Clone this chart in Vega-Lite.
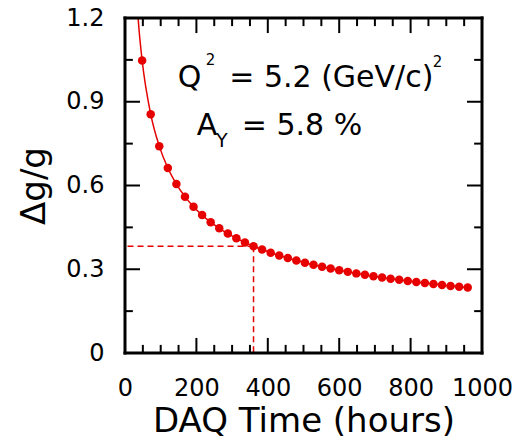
{
  "$schema": "https://vega.github.io/schema/vega-lite/v6.json",
  "width": 357,
  "height": 335,
  "autosize": {"type": "none"},
  "padding": {"left": 125, "top": 18, "right": 33, "bottom": 86},
  "background": "white",
  "config": {
    "view": {"stroke": null},
    "font": "DejaVu Sans",
    "axis": {
      "domain": false,
      "grid": false,
      "ticks": false,
      "labelColor": "black",
      "titleColor": "black",
      "labelFont": "DejaVu Sans",
      "titleFont": "DejaVu Sans",
      "labelFontSize": 24,
      "titleFontSize": 34,
      "titleFontWeight": "normal",
      "labelOverlap": false,
      "labelFlush": false,
      "labelBound": false
    }
  },
  "datasets": {
    "curve": [
      {"t": 32, "dg": 1.283, "m": 0},
      {"t": 40, "dg": 1.148, "m": 0},
      {"t": 48, "dg": 1.0479, "m": 1},
      {"t": 72, "dg": 0.8556, "m": 1},
      {"t": 96, "dg": 0.741, "m": 1},
      {"t": 120, "dg": 0.6627, "m": 1},
      {"t": 144, "dg": 0.605, "m": 1},
      {"t": 168, "dg": 0.5601, "m": 1},
      {"t": 192, "dg": 0.5239, "m": 1},
      {"t": 216, "dg": 0.494, "m": 1},
      {"t": 240, "dg": 0.4686, "m": 1},
      {"t": 264, "dg": 0.4468, "m": 1},
      {"t": 288, "dg": 0.4278, "m": 1},
      {"t": 312, "dg": 0.411, "m": 1},
      {"t": 336, "dg": 0.3961, "m": 1},
      {"t": 360, "dg": 0.3826, "m": 1},
      {"t": 384, "dg": 0.3705, "m": 1},
      {"t": 408, "dg": 0.3594, "m": 1},
      {"t": 432, "dg": 0.3493, "m": 1},
      {"t": 456, "dg": 0.34, "m": 1},
      {"t": 480, "dg": 0.3314, "m": 1},
      {"t": 504, "dg": 0.3234, "m": 1},
      {"t": 528, "dg": 0.3159, "m": 1},
      {"t": 552, "dg": 0.309, "m": 1},
      {"t": 576, "dg": 0.3025, "m": 1},
      {"t": 600, "dg": 0.2964, "m": 1},
      {"t": 624, "dg": 0.2906, "m": 1},
      {"t": 648, "dg": 0.2852, "m": 1},
      {"t": 672, "dg": 0.2801, "m": 1},
      {"t": 696, "dg": 0.2752, "m": 1},
      {"t": 720, "dg": 0.2706, "m": 1},
      {"t": 744, "dg": 0.2662, "m": 1},
      {"t": 768, "dg": 0.262, "m": 1},
      {"t": 792, "dg": 0.258, "m": 1},
      {"t": 816, "dg": 0.2542, "m": 1},
      {"t": 840, "dg": 0.2505, "m": 1},
      {"t": 864, "dg": 0.247, "m": 1},
      {"t": 888, "dg": 0.2436, "m": 1},
      {"t": 912, "dg": 0.2404, "m": 1},
      {"t": 936, "dg": 0.2373, "m": 1},
      {"t": 960, "dg": 0.2343, "m": 1}
    ],
    "marker": [{"t": 360, "dg": 0.3826}],
    "xmajor": [{"v": 200}, {"v": 400}, {"v": 600}, {"v": 800}],
    "xminor": [
      {"v": 50}, {"v": 100}, {"v": 150}, {"v": 250}, {"v": 300}, {"v": 350},
      {"v": 450}, {"v": 500}, {"v": 550}, {"v": 650}, {"v": 700}, {"v": 750},
      {"v": 850}, {"v": 900}, {"v": 950}
    ],
    "ymajor": [{"v": 0.3}, {"v": 0.6}, {"v": 0.9}],
    "yminor": [{"v": 0.15}, {"v": 0.45}, {"v": 0.75}, {"v": 1.05}],
    "frame": [
      {"x0": 0, "x1": 1000, "y0": 0, "y1": 0},
      {"x0": 0, "x1": 1000, "y0": 1.2, "y1": 1.2},
      {"x0": 0, "x1": 0, "y0": 0, "y1": 1.2},
      {"x0": 1000, "x1": 1000, "y0": 0, "y1": 1.2}
    ],
    "notes": [
      {"t": 148, "dg": 0.954, "label": "Q", "role": "main"},
      {"t": 292, "dg": 0.954, "label": "= 5.2 (GeV/c)", "role": "main"},
      {"t": 201, "dg": 0.782, "label": "A", "role": "main"},
      {"t": 327, "dg": 0.782, "label": "= 5.8 %", "role": "main"},
      {"t": 226, "dg": 1.033, "label": "2", "role": "sup"},
      {"t": 862, "dg": 1.026, "label": "2", "role": "sup"},
      {"t": 255, "dg": 0.739, "label": "Y", "role": "sub"}
    ]
  },
  "layer": [
    {
      "data": {"name": "curve"},
      "mark": {"type": "line", "color": "#e60000", "strokeWidth": 1.5, "interpolate": "monotone", "clip": true},
      "encoding": {
        "x": {
          "field": "t", "type": "quantitative",
          "scale": {"domain": [0, 1000], "nice": false},
          "axis": {
            "title": "DAQ Time (hours)",
            "values": [0, 200, 400, 600, 800, 1000],
            "format": "d",
            "labelPadding": 23,
            "titlePadding": 4
          }
        },
        "y": {
          "field": "dg", "type": "quantitative",
          "scale": {"domain": [0, 1.2], "nice": false},
          "axis": {
            "title": "Δg/g",
            "values": [0, 0.3, 0.6, 0.9, 1.2],
            "labelExpr": "format(datum.value, '~g')",
            "labelPadding": 21,
            "titlePadding": 14
          }
        }
      }
    },
    {
      "data": {"name": "curve"},
      "transform": [{"filter": "datum.m === 1"}],
      "mark": {"type": "circle", "color": "#e60000", "opacity": 1, "size": 72},
      "encoding": {
        "x": {"field": "t", "type": "quantitative"},
        "y": {"field": "dg", "type": "quantitative"}
      }
    },
    {
      "data": {"name": "marker"},
      "mark": {"type": "rule", "color": "#e60000", "strokeWidth": 1.5, "strokeDash": [6, 4]},
      "encoding": {
        "x": {"field": "t", "type": "quantitative"},
        "x2": {"datum": 0},
        "y": {"field": "dg", "type": "quantitative"}
      }
    },
    {
      "data": {"name": "marker"},
      "mark": {"type": "rule", "color": "#e60000", "strokeWidth": 1.5, "strokeDash": [6, 4]},
      "encoding": {
        "x": {"field": "t", "type": "quantitative"},
        "y": {"field": "dg", "type": "quantitative"},
        "y2": {"datum": 0}
      }
    },
    {
      "data": {"name": "frame"},
      "mark": {"type": "rule", "stroke": "#000000", "strokeWidth": 3, "strokeCap": "square"},
      "encoding": {
        "x": {"field": "x0", "type": "quantitative"},
        "x2": {"field": "x1"},
        "y": {"field": "y0", "type": "quantitative"},
        "y2": {"field": "y1"}
      }
    },
    {
      "data": {"name": "xmajor"},
      "mark": {"type": "rule", "stroke": "#000000", "strokeWidth": 2},
      "encoding": {
        "x": {"field": "v", "type": "quantitative"},
        "y": {"datum": 0, "type": "quantitative"},
        "y2": {"datum": 0.054}
      }
    },
    {
      "data": {"name": "xmajor"},
      "mark": {"type": "rule", "stroke": "#000000", "strokeWidth": 2},
      "encoding": {
        "x": {"field": "v", "type": "quantitative"},
        "y": {"datum": 1.146, "type": "quantitative"},
        "y2": {"datum": 1.2}
      }
    },
    {
      "data": {"name": "xminor"},
      "mark": {"type": "rule", "stroke": "#000000", "strokeWidth": 2},
      "encoding": {
        "x": {"field": "v", "type": "quantitative"},
        "y": {"datum": 0, "type": "quantitative"},
        "y2": {"datum": 0.029}
      }
    },
    {
      "data": {"name": "xminor"},
      "mark": {"type": "rule", "stroke": "#000000", "strokeWidth": 2},
      "encoding": {
        "x": {"field": "v", "type": "quantitative"},
        "y": {"datum": 1.171, "type": "quantitative"},
        "y2": {"datum": 1.2}
      }
    },
    {
      "data": {"name": "ymajor"},
      "mark": {"type": "rule", "stroke": "#000000", "strokeWidth": 2},
      "encoding": {
        "y": {"field": "v", "type": "quantitative"},
        "x": {"datum": 0, "type": "quantitative"},
        "x2": {"datum": 42}
      }
    },
    {
      "data": {"name": "ymajor"},
      "mark": {"type": "rule", "stroke": "#000000", "strokeWidth": 2},
      "encoding": {
        "y": {"field": "v", "type": "quantitative"},
        "x": {"datum": 958, "type": "quantitative"},
        "x2": {"datum": 1000}
      }
    },
    {
      "data": {"name": "yminor"},
      "mark": {"type": "rule", "stroke": "#000000", "strokeWidth": 2},
      "encoding": {
        "y": {"field": "v", "type": "quantitative"},
        "x": {"datum": 0, "type": "quantitative"},
        "x2": {"datum": 22}
      }
    },
    {
      "data": {"name": "yminor"},
      "mark": {"type": "rule", "stroke": "#000000", "strokeWidth": 2},
      "encoding": {
        "y": {"field": "v", "type": "quantitative"},
        "x": {"datum": 978, "type": "quantitative"},
        "x2": {"datum": 1000}
      }
    },
    {
      "data": {"name": "notes"},
      "transform": [{"filter": "datum.role === 'main'"}],
      "mark": {"type": "text", "align": "left", "baseline": "alphabetic", "fontSize": 30, "color": "black"},
      "encoding": {
        "x": {"field": "t", "type": "quantitative"},
        "y": {"field": "dg", "type": "quantitative"},
        "text": {"field": "label"}
      }
    },
    {
      "data": {"name": "notes"},
      "transform": [{"filter": "datum.role === 'sup'"}],
      "mark": {"type": "text", "align": "left", "baseline": "alphabetic", "fontSize": 15, "color": "black"},
      "encoding": {
        "x": {"field": "t", "type": "quantitative"},
        "y": {"field": "dg", "type": "quantitative"},
        "text": {"field": "label"}
      }
    },
    {
      "data": {"name": "notes"},
      "transform": [{"filter": "datum.role === 'sub'"}],
      "mark": {"type": "text", "align": "left", "baseline": "alphabetic", "fontSize": 19, "color": "black"},
      "encoding": {
        "x": {"field": "t", "type": "quantitative"},
        "y": {"field": "dg", "type": "quantitative"},
        "text": {"field": "label"}
      }
    }
  ]
}
